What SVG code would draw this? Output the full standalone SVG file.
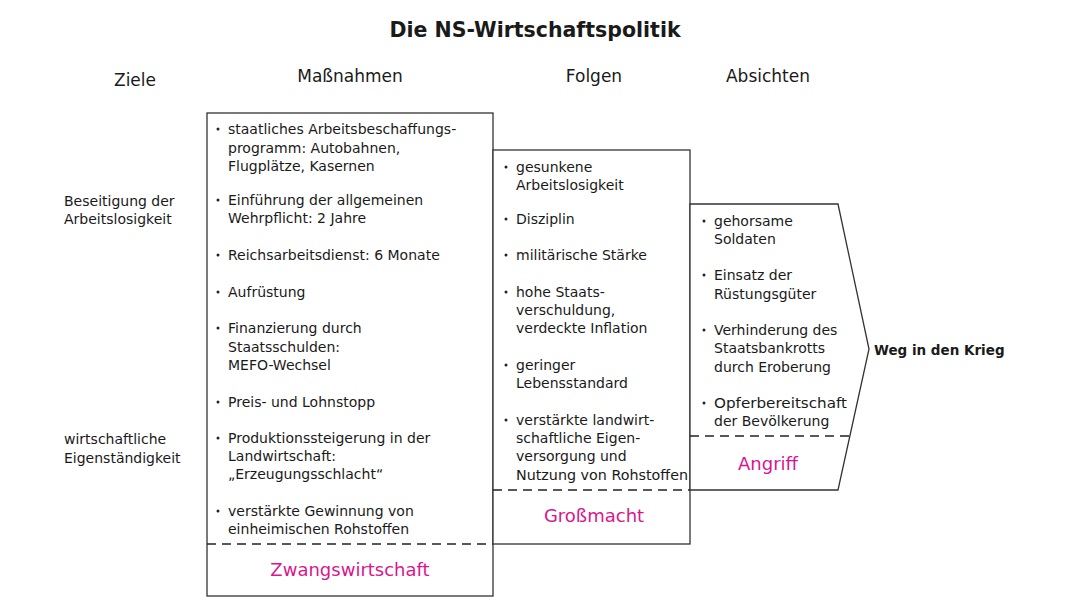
<svg xmlns="http://www.w3.org/2000/svg" width="1080" height="607" viewBox="0 0 1080 607">
<defs>
<circle id="bul" r="1.5" fill="#222"/>
</defs>
<style>
text{font-family:"DejaVu Sans","Open Sans",sans-serif;font-size:14px;fill:#1a1a1a}
.h{font-size:17px}
.t{font-size:20.5px;font-weight:bold}
.pk{fill:#d9168f;font-size:18px}
.b{font-weight:bold;font-size:13.5px}
.box{fill:#fff;stroke:#333;stroke-width:1.3}
.dash{stroke:#222;stroke-width:1.4;stroke-dasharray:9,6;fill:none}
</style>
<rect width="1080" height="607" fill="#fff"/>
<text class="t" x="535" y="37" text-anchor="middle">Die NS-Wirtschaftspolitik</text>
<g id="headings">
<text class="h" x="135" y="86" text-anchor="middle">Ziele</text>
<text class="h" x="350" y="82" text-anchor="middle">Maßnahmen</text>
<text class="h" x="594" y="82" text-anchor="middle">Folgen</text>
<text class="h" x="768" y="82" text-anchor="middle">Absichten</text>
</g>
<g id="ziele">
<text x="64" y="206">Beseitigung der</text>
<text x="64" y="224">Arbeitslosigkeit</text>
<text x="64" y="444">wirtschaftliche</text>
<text x="64" y="463">Eigenständigkeit</text>
</g>
<g id="massnahmen">
<rect class="box" x="207" y="113" width="286" height="483"/>
<line class="dash" x1="207" y1="544" x2="493" y2="544"/>
<use href="#bul" x="218" y="129"/><text x="228" y="134">staatliches Arbeitsbeschaffungs-</text>
<text x="228" y="153">programm: Autobahnen,</text>
<text x="228" y="171">Flugplätze, Kasernen</text>
<use href="#bul" x="218" y="200"/><text x="228" y="205">Einführung der allgemeinen</text>
<text x="228" y="223">Wehrpflicht: 2 Jahre</text>
<use href="#bul" x="218" y="255"/><text x="228" y="260">Reichsarbeitsdienst: 6 Monate</text>
<use href="#bul" x="218" y="292"/><text x="228" y="297">Aufrüstung</text>
<use href="#bul" x="218" y="328"/><text x="228" y="333">Finanzierung durch</text>
<text x="228" y="352">Staatsschulden:</text>
<text x="228" y="370">MEFO-Wechsel</text>
<use href="#bul" x="218" y="402"/><text x="228" y="407">Preis- und Lohnstopp</text>
<use href="#bul" x="218" y="438"/><text x="228" y="443">Produktionssteigerung in der</text>
<text x="228" y="461">Landwirtschaft:</text>
<text x="228" y="479">„Erzeugungsschlacht“</text>
<use href="#bul" x="218" y="511"/><text x="228" y="516">verstärkte Gewinnung von</text>
<text x="228" y="534">einheimischen Rohstoffen</text>
<text class="pk" x="350" y="576" text-anchor="middle">Zwangswirtschaft</text>
</g>
<g id="folgen">
<rect class="box" x="493" y="150" width="197" height="394"/>
<line class="dash" x1="493" y1="490" x2="690" y2="490"/>
<use href="#bul" x="506" y="167"/><text x="516" y="172">gesunkene</text>
<text x="516" y="190">Arbeitslosigkeit</text>
<use href="#bul" x="506" y="219"/><text x="516" y="224">Disziplin</text>
<use href="#bul" x="506" y="255"/><text x="516" y="260">militärische Stärke</text>
<use href="#bul" x="506" y="292"/><text x="516" y="297">hohe Staats-</text>
<text x="516" y="315">verschuldung,</text>
<text x="516" y="333">verdeckte Inflation</text>
<use href="#bul" x="506" y="365"/><text x="516" y="370">geringer</text>
<text x="516" y="388">Lebensstandard</text>
<use href="#bul" x="506" y="420"/><text x="516" y="425">verstärkte landwirt-</text>
<text x="516" y="443">schaftliche Eigen-</text>
<text x="516" y="461">versorgung und</text>
<text x="516" y="480" textLength="172" lengthAdjust="spacingAndGlyphs">Nutzung von Rohstoffen</text>
<text class="pk" x="594" y="522" text-anchor="middle">Großmacht</text>
</g>
<g id="absichten">
<path class="box" d="M690 204 H838 L869 349 L838 490 H690 Z"/>
<line class="dash" x1="690" y1="436" x2="850" y2="436"/>
<use href="#bul" x="704" y="221"/><text x="714" y="226">gehorsame</text>
<text x="714" y="244">Soldaten</text>
<use href="#bul" x="704" y="275"/><text x="714" y="280">Einsatz der</text>
<text x="714" y="299">Rüstungsgüter</text>
<use href="#bul" x="704" y="330"/><text x="714" y="335">Verhinderung des</text>
<text x="714" y="353">Staatsbankrotts</text>
<text x="714" y="372">durch Eroberung</text>
<use href="#bul" x="704" y="403"/><text x="714" y="408" textLength="133" lengthAdjust="spacingAndGlyphs">Opferbereitschaft</text>
<text x="714" y="426">der Bevölkerung</text>
<text class="pk" x="768" y="470" text-anchor="middle">Angriff</text>
</g>
<g id="ergebnis">
<text class="b" x="874" y="355">Weg in den Krieg</text>
</g>
<g id="connectors"/>
</svg>
